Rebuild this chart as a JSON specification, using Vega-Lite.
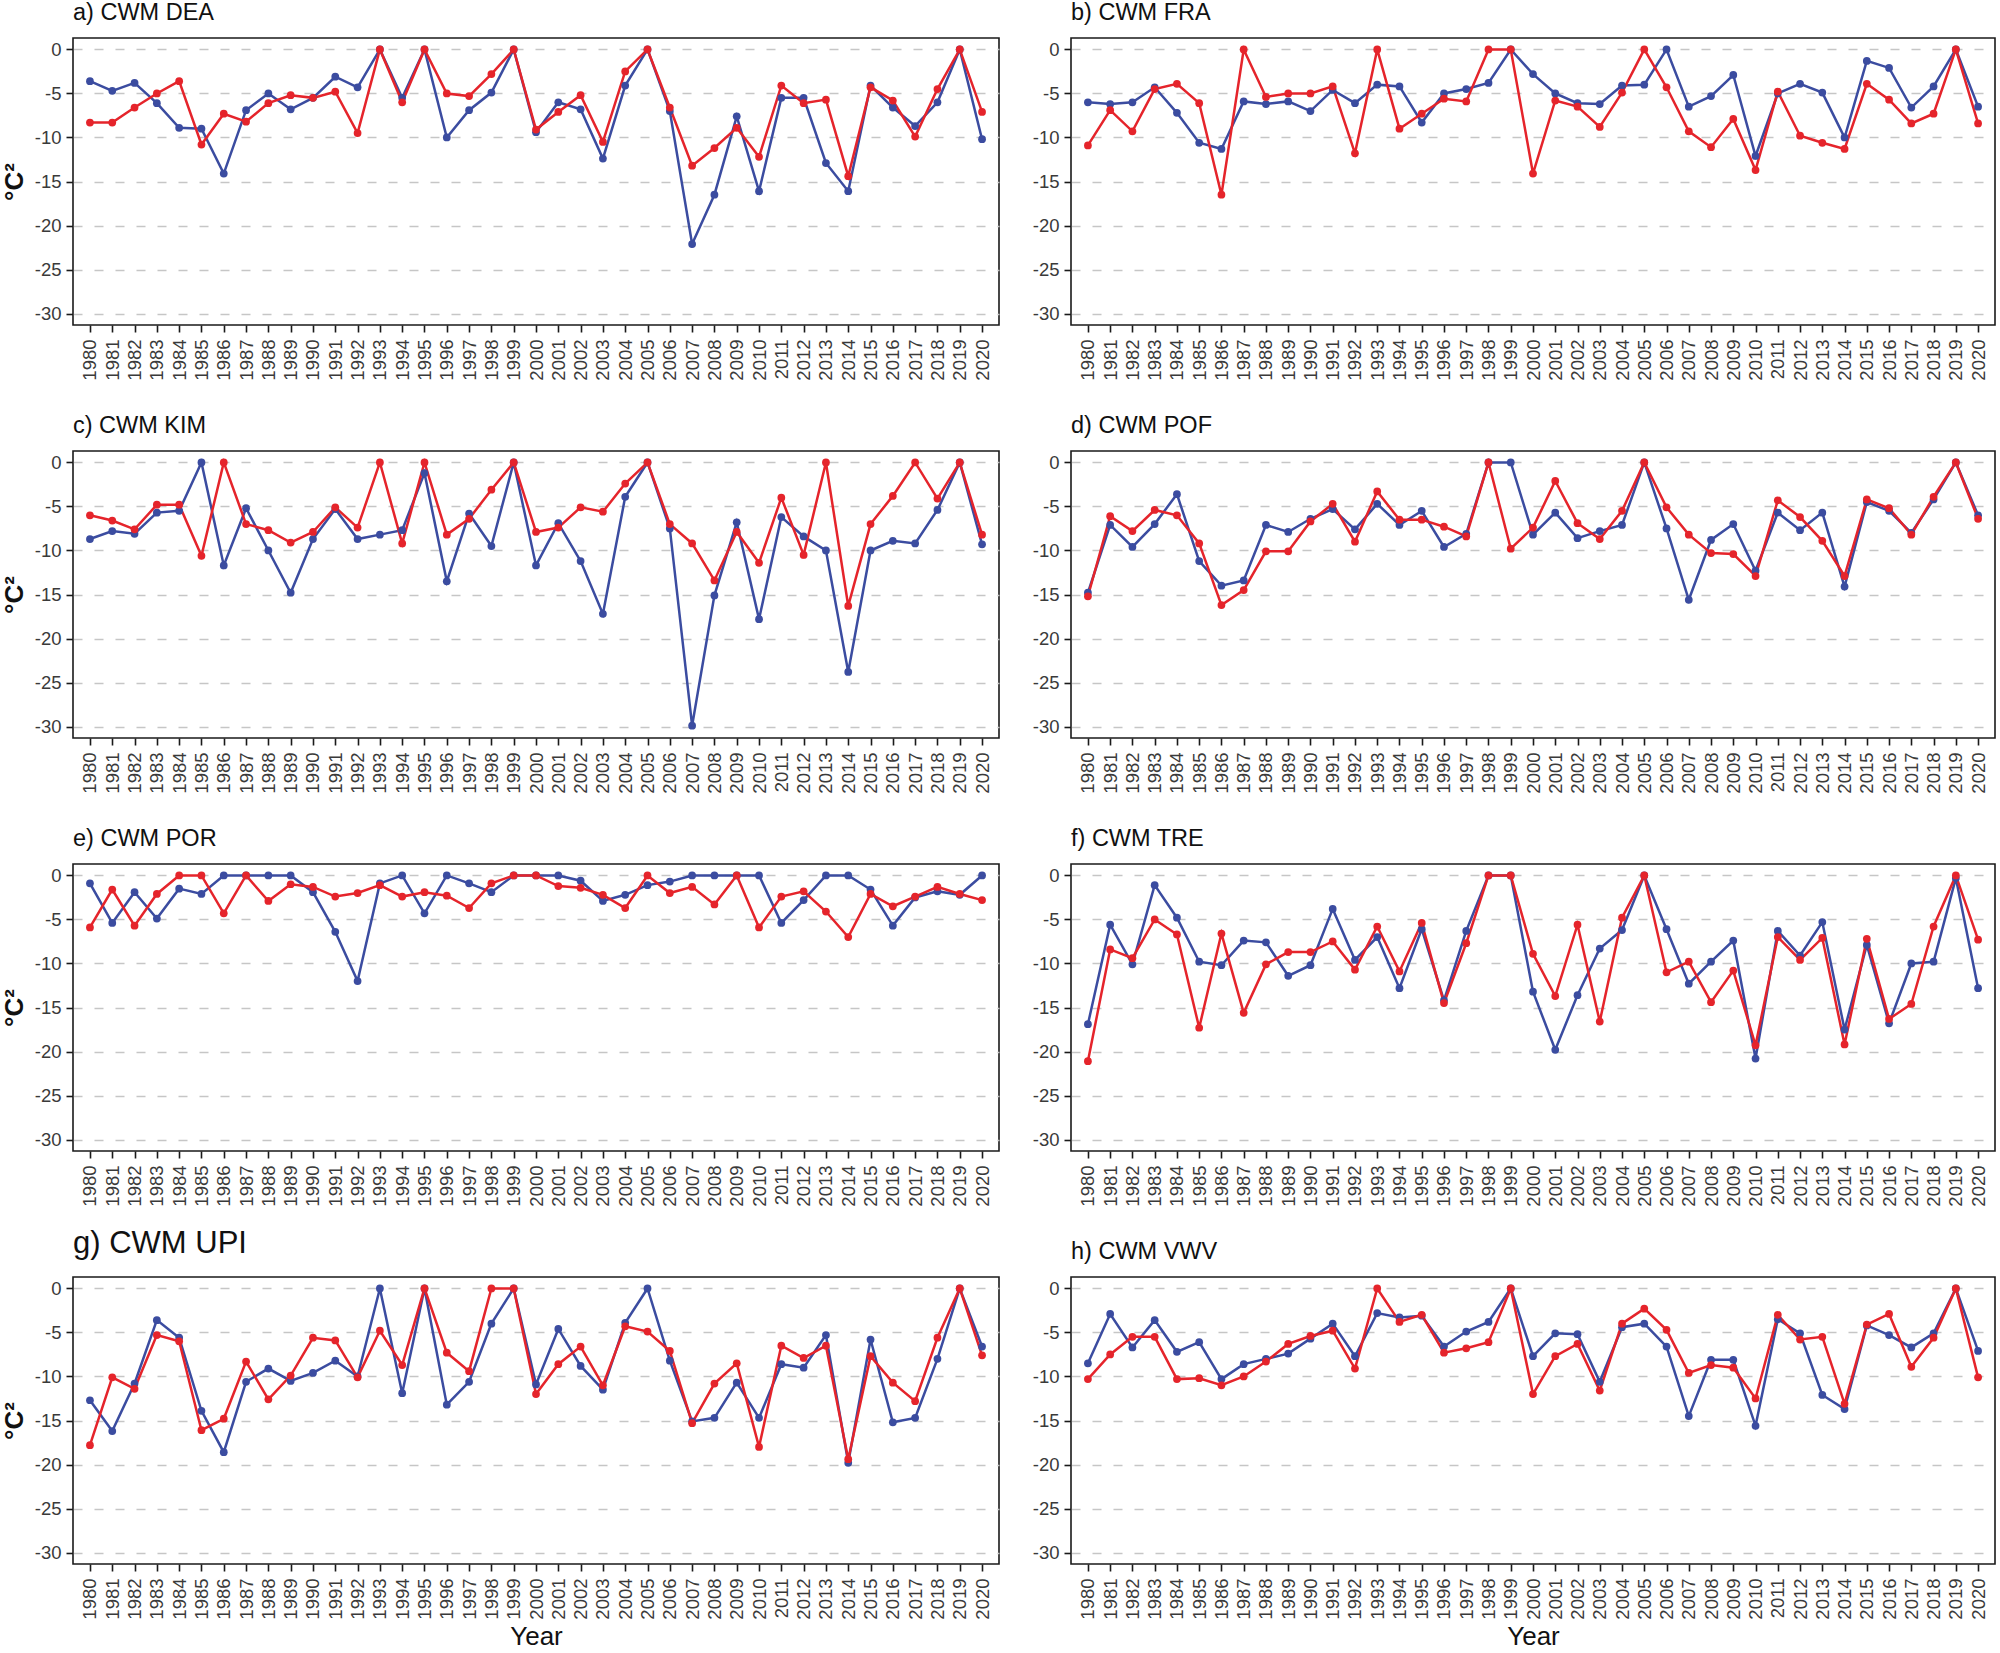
{
"$schema": "https://vega.github.io/schema/vega-lite/v6.json",
"autosize": {"type": "pad"},
"padding": {"left": 0, "top": 0, "right": 0, "bottom": 0},
"background": "white",
"data": {"values": [
{"p":"DEA","year":1980,"s1":-3.6,"s2":-8.3},{"p":"DEA","year":1981,"s1":-4.7,"s2":-8.3},{"p":"DEA","year":1982,"s1":-3.8,"s2":-6.6},{"p":"DEA","year":1983,"s1":-6.1,"s2":-5.0},{"p":"DEA","year":1984,"s1":-8.9,"s2":-3.6},{"p":"DEA","year":1985,"s1":-9.0,"s2":-10.8},{"p":"DEA","year":1986,"s1":-14.1,"s2":-7.3},{"p":"DEA","year":1987,"s1":-6.9,"s2":-8.2},{"p":"DEA","year":1988,"s1":-5.0,"s2":-6.1},{"p":"DEA","year":1989,"s1":-6.8,"s2":-5.2},{"p":"DEA","year":1990,"s1":-5.5,"s2":-5.5},{"p":"DEA","year":1991,"s1":-3.1,"s2":-4.8},{"p":"DEA","year":1992,"s1":-4.3,"s2":-9.5},{"p":"DEA","year":1993,"s1":0,"s2":0},{"p":"DEA","year":1994,"s1":-5.5,"s2":-6.0},{"p":"DEA","year":1995,"s1":0,"s2":0},{"p":"DEA","year":1996,"s1":-10.0,"s2":-5.0},{"p":"DEA","year":1997,"s1":-6.9,"s2":-5.3},{"p":"DEA","year":1998,"s1":-4.9,"s2":-2.8},{"p":"DEA","year":1999,"s1":0,"s2":0},{"p":"DEA","year":2000,"s1":-9.4,"s2":-9.1},{"p":"DEA","year":2001,"s1":-6.0,"s2":-7.1},{"p":"DEA","year":2002,"s1":-6.8,"s2":-5.2},{"p":"DEA","year":2003,"s1":-12.4,"s2":-10.5},{"p":"DEA","year":2004,"s1":-4.1,"s2":-2.5},{"p":"DEA","year":2005,"s1":0,"s2":0},{"p":"DEA","year":2006,"s1":-7.0,"s2":-6.6},{"p":"DEA","year":2007,"s1":-22.1,"s2":-13.2},{"p":"DEA","year":2008,"s1":-16.5,"s2":-11.2},{"p":"DEA","year":2009,"s1":-7.6,"s2":-8.9},{"p":"DEA","year":2010,"s1":-16.1,"s2":-12.2},{"p":"DEA","year":2011,"s1":-5.5,"s2":-4.1},{"p":"DEA","year":2012,"s1":-5.5,"s2":-6.1},{"p":"DEA","year":2013,"s1":-12.9,"s2":-5.7},{"p":"DEA","year":2014,"s1":-16.1,"s2":-14.4},{"p":"DEA","year":2015,"s1":-4.1,"s2":-4.3},{"p":"DEA","year":2016,"s1":-6.6,"s2":-5.8},{"p":"DEA","year":2017,"s1":-8.7,"s2":-9.9},{"p":"DEA","year":2018,"s1":-6.0,"s2":-4.5},{"p":"DEA","year":2019,"s1":0,"s2":0},{"p":"DEA","year":2020,"s1":-10.2,"s2":-7.1},
{"p":"FRA","year":1980,"s1":-6.0,"s2":-10.9},{"p":"FRA","year":1981,"s1":-6.2,"s2":-6.9},{"p":"FRA","year":1982,"s1":-6.0,"s2":-9.3},{"p":"FRA","year":1983,"s1":-4.3,"s2":-4.5},{"p":"FRA","year":1984,"s1":-7.2,"s2":-3.9},{"p":"FRA","year":1985,"s1":-10.6,"s2":-6.1},{"p":"FRA","year":1986,"s1":-11.3,"s2":-16.5},{"p":"FRA","year":1987,"s1":-5.9,"s2":0},{"p":"FRA","year":1988,"s1":-6.2,"s2":-5.4},{"p":"FRA","year":1989,"s1":-5.9,"s2":-5.0},{"p":"FRA","year":1990,"s1":-7.0,"s2":-5.0},{"p":"FRA","year":1991,"s1":-4.6,"s2":-4.2},{"p":"FRA","year":1992,"s1":-6.1,"s2":-11.8},{"p":"FRA","year":1993,"s1":-4.0,"s2":0},{"p":"FRA","year":1994,"s1":-4.2,"s2":-9.0},{"p":"FRA","year":1995,"s1":-8.3,"s2":-7.3},{"p":"FRA","year":1996,"s1":-5.0,"s2":-5.6},{"p":"FRA","year":1997,"s1":-4.5,"s2":-5.9},{"p":"FRA","year":1998,"s1":-3.8,"s2":0},{"p":"FRA","year":1999,"s1":0,"s2":0},{"p":"FRA","year":2000,"s1":-2.8,"s2":-14.1},{"p":"FRA","year":2001,"s1":-5.0,"s2":-5.8},{"p":"FRA","year":2002,"s1":-6.1,"s2":-6.5},{"p":"FRA","year":2003,"s1":-6.2,"s2":-8.8},{"p":"FRA","year":2004,"s1":-4.1,"s2":-4.9},{"p":"FRA","year":2005,"s1":-4.0,"s2":0},{"p":"FRA","year":2006,"s1":0,"s2":-4.3},{"p":"FRA","year":2007,"s1":-6.5,"s2":-9.3},{"p":"FRA","year":2008,"s1":-5.3,"s2":-11.1},{"p":"FRA","year":2009,"s1":-2.9,"s2":-7.9},{"p":"FRA","year":2010,"s1":-12.1,"s2":-13.7},{"p":"FRA","year":2011,"s1":-5.0,"s2":-4.8},{"p":"FRA","year":2012,"s1":-3.9,"s2":-9.8},{"p":"FRA","year":2013,"s1":-4.9,"s2":-10.6},{"p":"FRA","year":2014,"s1":-10.0,"s2":-11.3},{"p":"FRA","year":2015,"s1":-1.3,"s2":-3.9},{"p":"FRA","year":2016,"s1":-2.1,"s2":-5.7},{"p":"FRA","year":2017,"s1":-6.6,"s2":-8.4},{"p":"FRA","year":2018,"s1":-4.2,"s2":-7.3},{"p":"FRA","year":2019,"s1":0,"s2":0},{"p":"FRA","year":2020,"s1":-6.5,"s2":-8.4},
{"p":"KIM","year":1980,"s1":-8.7,"s2":-6.0},{"p":"KIM","year":1981,"s1":-7.8,"s2":-6.6},{"p":"KIM","year":1982,"s1":-8.1,"s2":-7.6},{"p":"KIM","year":1983,"s1":-5.7,"s2":-4.8},{"p":"KIM","year":1984,"s1":-5.5,"s2":-4.8},{"p":"KIM","year":1985,"s1":0,"s2":-10.6},{"p":"KIM","year":1986,"s1":-11.7,"s2":0},{"p":"KIM","year":1987,"s1":-5.2,"s2":-7.0},{"p":"KIM","year":1988,"s1":-10.0,"s2":-7.7},{"p":"KIM","year":1989,"s1":-14.8,"s2":-9.1},{"p":"KIM","year":1990,"s1":-8.7,"s2":-7.9},{"p":"KIM","year":1991,"s1":-5.3,"s2":-5.1},{"p":"KIM","year":1992,"s1":-8.7,"s2":-7.4},{"p":"KIM","year":1993,"s1":-8.2,"s2":0},{"p":"KIM","year":1994,"s1":-7.7,"s2":-9.2},{"p":"KIM","year":1995,"s1":-1.2,"s2":0},{"p":"KIM","year":1996,"s1":-13.5,"s2":-8.2},{"p":"KIM","year":1997,"s1":-5.8,"s2":-6.4},{"p":"KIM","year":1998,"s1":-9.5,"s2":-3.1},{"p":"KIM","year":1999,"s1":0,"s2":0},{"p":"KIM","year":2000,"s1":-11.7,"s2":-7.9},{"p":"KIM","year":2001,"s1":-6.9,"s2":-7.4},{"p":"KIM","year":2002,"s1":-11.2,"s2":-5.1},{"p":"KIM","year":2003,"s1":-17.2,"s2":-5.6},{"p":"KIM","year":2004,"s1":-3.9,"s2":-2.4},{"p":"KIM","year":2005,"s1":0,"s2":0},{"p":"KIM","year":2006,"s1":-7.5,"s2":-7.0},{"p":"KIM","year":2007,"s1":-29.9,"s2":-9.2},{"p":"KIM","year":2008,"s1":-15.1,"s2":-13.4},{"p":"KIM","year":2009,"s1":-6.8,"s2":-7.9},{"p":"KIM","year":2010,"s1":-17.8,"s2":-11.4},{"p":"KIM","year":2011,"s1":-6.2,"s2":-4.0},{"p":"KIM","year":2012,"s1":-8.4,"s2":-10.5},{"p":"KIM","year":2013,"s1":-10.0,"s2":0},{"p":"KIM","year":2014,"s1":-23.8,"s2":-16.3},{"p":"KIM","year":2015,"s1":-10.0,"s2":-7.0},{"p":"KIM","year":2016,"s1":-8.9,"s2":-3.8},{"p":"KIM","year":2017,"s1":-9.2,"s2":0},{"p":"KIM","year":2018,"s1":-5.4,"s2":-4.1},{"p":"KIM","year":2019,"s1":0,"s2":0},{"p":"KIM","year":2020,"s1":-9.3,"s2":-8.2},
{"p":"POF","year":1980,"s1":-14.8,"s2":-15.2},{"p":"POF","year":1981,"s1":-7.1,"s2":-6.1},{"p":"POF","year":1982,"s1":-9.6,"s2":-7.8},{"p":"POF","year":1983,"s1":-7.0,"s2":-5.4},{"p":"POF","year":1984,"s1":-3.6,"s2":-6.0},{"p":"POF","year":1985,"s1":-11.2,"s2":-9.2},{"p":"POF","year":1986,"s1":-14.0,"s2":-16.2},{"p":"POF","year":1987,"s1":-13.4,"s2":-14.5},{"p":"POF","year":1988,"s1":-7.1,"s2":-10.1},{"p":"POF","year":1989,"s1":-7.9,"s2":-10.1},{"p":"POF","year":1990,"s1":-6.4,"s2":-6.7},{"p":"POF","year":1991,"s1":-5.3,"s2":-4.7},{"p":"POF","year":1992,"s1":-7.6,"s2":-9.0},{"p":"POF","year":1993,"s1":-4.7,"s2":-3.3},{"p":"POF","year":1994,"s1":-7.1,"s2":-6.5},{"p":"POF","year":1995,"s1":-5.5,"s2":-6.5},{"p":"POF","year":1996,"s1":-9.6,"s2":-7.3},{"p":"POF","year":1997,"s1":-8.1,"s2":-8.4},{"p":"POF","year":1998,"s1":0,"s2":0},{"p":"POF","year":1999,"s1":0,"s2":-9.8},{"p":"POF","year":2000,"s1":-8.2,"s2":-7.4},{"p":"POF","year":2001,"s1":-5.7,"s2":-2.1},{"p":"POF","year":2002,"s1":-8.6,"s2":-6.9},{"p":"POF","year":2003,"s1":-7.8,"s2":-8.7},{"p":"POF","year":2004,"s1":-7.1,"s2":-5.5},{"p":"POF","year":2005,"s1":0,"s2":0},{"p":"POF","year":2006,"s1":-7.5,"s2":-5.1},{"p":"POF","year":2007,"s1":-15.6,"s2":-8.2},{"p":"POF","year":2008,"s1":-8.8,"s2":-10.3},{"p":"POF","year":2009,"s1":-7.0,"s2":-10.4},{"p":"POF","year":2010,"s1":-12.3,"s2":-12.9},{"p":"POF","year":2011,"s1":-5.7,"s2":-4.3},{"p":"POF","year":2012,"s1":-7.7,"s2":-6.2},{"p":"POF","year":2013,"s1":-5.7,"s2":-8.9},{"p":"POF","year":2014,"s1":-14.1,"s2":-12.9},{"p":"POF","year":2015,"s1":-4.5,"s2":-4.2},{"p":"POF","year":2016,"s1":-5.5,"s2":-5.2},{"p":"POF","year":2017,"s1":-8.0,"s2":-8.2},{"p":"POF","year":2018,"s1":-4.2,"s2":-3.9},{"p":"POF","year":2019,"s1":0,"s2":0},{"p":"POF","year":2020,"s1":-6.0,"s2":-6.4},
{"p":"POR","year":1980,"s1":-0.9,"s2":-5.9},{"p":"POR","year":1981,"s1":-5.4,"s2":-1.6},{"p":"POR","year":1982,"s1":-1.9,"s2":-5.7},{"p":"POR","year":1983,"s1":-4.9,"s2":-2.1},{"p":"POR","year":1984,"s1":-1.5,"s2":0},{"p":"POR","year":1985,"s1":-2.1,"s2":0},{"p":"POR","year":1986,"s1":0,"s2":-4.3},{"p":"POR","year":1987,"s1":0,"s2":0},{"p":"POR","year":1988,"s1":0,"s2":-2.9},{"p":"POR","year":1989,"s1":0,"s2":-1.0},{"p":"POR","year":1990,"s1":-1.9,"s2":-1.3},{"p":"POR","year":1991,"s1":-6.4,"s2":-2.4},{"p":"POR","year":1992,"s1":-12.0,"s2":-2.0},{"p":"POR","year":1993,"s1":-0.9,"s2":-1.1},{"p":"POR","year":1994,"s1":0,"s2":-2.4},{"p":"POR","year":1995,"s1":-4.3,"s2":-1.9},{"p":"POR","year":1996,"s1":0,"s2":-2.3},{"p":"POR","year":1997,"s1":-0.9,"s2":-3.7},{"p":"POR","year":1998,"s1":-1.9,"s2":-0.9},{"p":"POR","year":1999,"s1":0,"s2":0},{"p":"POR","year":2000,"s1":0,"s2":0},{"p":"POR","year":2001,"s1":0,"s2":-1.2},{"p":"POR","year":2002,"s1":-0.6,"s2":-1.4},{"p":"POR","year":2003,"s1":-2.9,"s2":-2.2},{"p":"POR","year":2004,"s1":-2.2,"s2":-3.7},{"p":"POR","year":2005,"s1":-1.1,"s2":0},{"p":"POR","year":2006,"s1":-0.7,"s2":-2.0},{"p":"POR","year":2007,"s1":0,"s2":-1.3},{"p":"POR","year":2008,"s1":0,"s2":-3.3},{"p":"POR","year":2009,"s1":0,"s2":0},{"p":"POR","year":2010,"s1":0,"s2":-5.9},{"p":"POR","year":2011,"s1":-5.4,"s2":-2.4},{"p":"POR","year":2012,"s1":-2.8,"s2":-1.8},{"p":"POR","year":2013,"s1":0,"s2":-4.1},{"p":"POR","year":2014,"s1":0,"s2":-7.0},{"p":"POR","year":2015,"s1":-1.6,"s2":-2.1},{"p":"POR","year":2016,"s1":-5.7,"s2":-3.5},{"p":"POR","year":2017,"s1":-2.5,"s2":-2.4},{"p":"POR","year":2018,"s1":-1.8,"s2":-1.3},{"p":"POR","year":2019,"s1":-2.2,"s2":-2.1},{"p":"POR","year":2020,"s1":0,"s2":-2.8},
{"p":"TRE","year":1980,"s1":-16.9,"s2":-21.1},{"p":"TRE","year":1981,"s1":-5.6,"s2":-8.4},{"p":"TRE","year":1982,"s1":-10.1,"s2":-9.4},{"p":"TRE","year":1983,"s1":-1.1,"s2":-5.0},{"p":"TRE","year":1984,"s1":-4.8,"s2":-6.7},{"p":"TRE","year":1985,"s1":-9.8,"s2":-17.3},{"p":"TRE","year":1986,"s1":-10.2,"s2":-6.6},{"p":"TRE","year":1987,"s1":-7.4,"s2":-15.6},{"p":"TRE","year":1988,"s1":-7.6,"s2":-10.1},{"p":"TRE","year":1989,"s1":-11.4,"s2":-8.7},{"p":"TRE","year":1990,"s1":-10.2,"s2":-8.7},{"p":"TRE","year":1991,"s1":-3.8,"s2":-7.5},{"p":"TRE","year":1992,"s1":-9.6,"s2":-10.7},{"p":"TRE","year":1993,"s1":-7.0,"s2":-5.8},{"p":"TRE","year":1994,"s1":-12.8,"s2":-10.9},{"p":"TRE","year":1995,"s1":-6.1,"s2":-5.4},{"p":"TRE","year":1996,"s1":-14.2,"s2":-14.5},{"p":"TRE","year":1997,"s1":-6.3,"s2":-7.7},{"p":"TRE","year":1998,"s1":0,"s2":0},{"p":"TRE","year":1999,"s1":0,"s2":0},{"p":"TRE","year":2000,"s1":-13.2,"s2":-8.9},{"p":"TRE","year":2001,"s1":-19.8,"s2":-13.7},{"p":"TRE","year":2002,"s1":-13.6,"s2":-5.6},{"p":"TRE","year":2003,"s1":-8.3,"s2":-16.6},{"p":"TRE","year":2004,"s1":-6.2,"s2":-4.8},{"p":"TRE","year":2005,"s1":0,"s2":0},{"p":"TRE","year":2006,"s1":-6.1,"s2":-11.0},{"p":"TRE","year":2007,"s1":-12.3,"s2":-9.8},{"p":"TRE","year":2008,"s1":-9.8,"s2":-14.4},{"p":"TRE","year":2009,"s1":-7.4,"s2":-10.8},{"p":"TRE","year":2010,"s1":-20.8,"s2":-19.3},{"p":"TRE","year":2011,"s1":-6.3,"s2":-7.0},{"p":"TRE","year":2012,"s1":-9.1,"s2":-9.6},{"p":"TRE","year":2013,"s1":-5.3,"s2":-7.1},{"p":"TRE","year":2014,"s1":-17.5,"s2":-19.2},{"p":"TRE","year":2015,"s1":-7.9,"s2":-7.2},{"p":"TRE","year":2016,"s1":-16.8,"s2":-16.3},{"p":"TRE","year":2017,"s1":-10.0,"s2":-14.6},{"p":"TRE","year":2018,"s1":-9.8,"s2":-5.8},{"p":"TRE","year":2019,"s1":-0.3,"s2":0},{"p":"TRE","year":2020,"s1":-12.8,"s2":-7.3},
{"p":"UPI","year":1980,"s1":-12.7,"s2":-17.8},{"p":"UPI","year":1981,"s1":-16.2,"s2":-10.1},{"p":"UPI","year":1982,"s1":-10.8,"s2":-11.4},{"p":"UPI","year":1983,"s1":-3.6,"s2":-5.3},{"p":"UPI","year":1984,"s1":-5.6,"s2":-6.0},{"p":"UPI","year":1985,"s1":-13.9,"s2":-16.1},{"p":"UPI","year":1986,"s1":-18.6,"s2":-14.8},{"p":"UPI","year":1987,"s1":-10.6,"s2":-8.3},{"p":"UPI","year":1988,"s1":-9.1,"s2":-12.6},{"p":"UPI","year":1989,"s1":-10.5,"s2":-9.9},{"p":"UPI","year":1990,"s1":-9.6,"s2":-5.6},{"p":"UPI","year":1991,"s1":-8.2,"s2":-5.9},{"p":"UPI","year":1992,"s1":-10.0,"s2":-10.1},{"p":"UPI","year":1993,"s1":0,"s2":-4.8},{"p":"UPI","year":1994,"s1":-11.9,"s2":-8.7},{"p":"UPI","year":1995,"s1":0,"s2":0},{"p":"UPI","year":1996,"s1":-13.2,"s2":-7.3},{"p":"UPI","year":1997,"s1":-10.6,"s2":-9.4},{"p":"UPI","year":1998,"s1":-4.0,"s2":0},{"p":"UPI","year":1999,"s1":0,"s2":0},{"p":"UPI","year":2000,"s1":-10.9,"s2":-12.0},{"p":"UPI","year":2001,"s1":-4.6,"s2":-8.6},{"p":"UPI","year":2002,"s1":-8.8,"s2":-6.6},{"p":"UPI","year":2003,"s1":-11.5,"s2":-11.0},{"p":"UPI","year":2004,"s1":-3.9,"s2":-4.3},{"p":"UPI","year":2005,"s1":0,"s2":-4.9},{"p":"UPI","year":2006,"s1":-8.2,"s2":-7.1},{"p":"UPI","year":2007,"s1":-15.1,"s2":-15.3},{"p":"UPI","year":2008,"s1":-14.7,"s2":-10.8},{"p":"UPI","year":2009,"s1":-10.7,"s2":-8.5},{"p":"UPI","year":2010,"s1":-14.7,"s2":-18.0},{"p":"UPI","year":2011,"s1":-8.6,"s2":-6.5},{"p":"UPI","year":2012,"s1":-9.0,"s2":-7.9},{"p":"UPI","year":2013,"s1":-5.3,"s2":-6.5},{"p":"UPI","year":2014,"s1":-19.8,"s2":-19.4},{"p":"UPI","year":2015,"s1":-5.8,"s2":-7.7},{"p":"UPI","year":2016,"s1":-15.2,"s2":-10.7},{"p":"UPI","year":2017,"s1":-14.7,"s2":-12.8},{"p":"UPI","year":2018,"s1":-8.0,"s2":-5.6},{"p":"UPI","year":2019,"s1":0,"s2":0},{"p":"UPI","year":2020,"s1":-6.6,"s2":-7.6},
{"p":"VWV","year":1980,"s1":-8.5,"s2":-10.3},{"p":"VWV","year":1981,"s1":-2.9,"s2":-7.5},{"p":"VWV","year":1982,"s1":-6.7,"s2":-5.5},{"p":"VWV","year":1983,"s1":-3.6,"s2":-5.5},{"p":"VWV","year":1984,"s1":-7.2,"s2":-10.3},{"p":"VWV","year":1985,"s1":-6.1,"s2":-10.2},{"p":"VWV","year":1986,"s1":-10.3,"s2":-11.0},{"p":"VWV","year":1987,"s1":-8.6,"s2":-10.0},{"p":"VWV","year":1988,"s1":-8.0,"s2":-8.3},{"p":"VWV","year":1989,"s1":-7.4,"s2":-6.3},{"p":"VWV","year":1990,"s1":-5.7,"s2":-5.4},{"p":"VWV","year":1991,"s1":-4.0,"s2":-4.8},{"p":"VWV","year":1992,"s1":-7.7,"s2":-9.1},{"p":"VWV","year":1993,"s1":-2.8,"s2":0},{"p":"VWV","year":1994,"s1":-3.3,"s2":-3.8},{"p":"VWV","year":1995,"s1":-3.1,"s2":-3.0},{"p":"VWV","year":1996,"s1":-6.6,"s2":-7.3},{"p":"VWV","year":1997,"s1":-4.9,"s2":-6.8},{"p":"VWV","year":1998,"s1":-3.8,"s2":-6.1},{"p":"VWV","year":1999,"s1":0,"s2":0},{"p":"VWV","year":2000,"s1":-7.7,"s2":-12.0},{"p":"VWV","year":2001,"s1":-5.1,"s2":-7.7},{"p":"VWV","year":2002,"s1":-5.2,"s2":-6.3},{"p":"VWV","year":2003,"s1":-10.6,"s2":-11.6},{"p":"VWV","year":2004,"s1":-4.4,"s2":-4.0},{"p":"VWV","year":2005,"s1":-4.0,"s2":-2.3},{"p":"VWV","year":2006,"s1":-6.6,"s2":-4.7},{"p":"VWV","year":2007,"s1":-14.5,"s2":-9.6},{"p":"VWV","year":2008,"s1":-8.1,"s2":-8.7},{"p":"VWV","year":2009,"s1":-8.1,"s2":-9.0},{"p":"VWV","year":2010,"s1":-15.6,"s2":-12.5},{"p":"VWV","year":2011,"s1":-3.5,"s2":-3.0},{"p":"VWV","year":2012,"s1":-5.1,"s2":-5.8},{"p":"VWV","year":2013,"s1":-12.1,"s2":-5.5},{"p":"VWV","year":2014,"s1":-13.7,"s2":-13.1},{"p":"VWV","year":2015,"s1":-4.2,"s2":-4.1},{"p":"VWV","year":2016,"s1":-5.3,"s2":-2.9},{"p":"VWV","year":2017,"s1":-6.7,"s2":-8.9},{"p":"VWV","year":2018,"s1":-5.1,"s2":-5.6},{"p":"VWV","year":2019,"s1":0,"s2":0},{"p":"VWV","year":2020,"s1":-7.1,"s2":-10.1}
]},
"columns": 2,
"bounds": "flush",
"spacing": {"row": 126, "column": 72},
"concat": [
{"title": {"text": "a) CWM DEA"}, "width": 926, "height": 287,
 "transform": [{"filter": "datum.p === 'DEA'"}, {"fold": ["s1", "s2"], "as": ["series", "value"]}],
 "encoding": {
  "x": {"field": "year", "type": "ordinal", "scale": {"type": "point", "padding": 0.76}, "axis": {"title": null}},
  "y": {"field": "value", "type": "quantitative", "scale": {"domain": [-31.3, 1.3], "nice": false, "zero": false}, "axis": {"title": "°C²", "values": [0, -5, -10, -15, -20, -25, -30], "labelExpr": "'' + datum.value"}},
  "color": {"field": "series", "type": "nominal", "scale": {"domain": ["s1", "s2"], "range": ["#3B4CA0", "#E5242B"]}, "legend": null}},
 "layer": [{"mark": {"type": "line", "strokeWidth": 2.5}, "encoding": {}}, {"mark": {"type": "circle", "size": 60, "opacity": 1}, "encoding": {}}]},
{"title": {"text": "b) CWM FRA"}, "width": 924, "height": 287,
 "transform": [{"filter": "datum.p === 'FRA'"}, {"fold": ["s1", "s2"], "as": ["series", "value"]}],
 "encoding": {
  "x": {"field": "year", "type": "ordinal", "scale": {"type": "point", "padding": 0.76}, "axis": {"title": null}},
  "y": {"field": "value", "type": "quantitative", "scale": {"domain": [-31.3, 1.3], "nice": false, "zero": false}, "axis": {"title": null, "values": [0, -5, -10, -15, -20, -25, -30], "labelExpr": "'' + datum.value"}},
  "color": {"field": "series", "type": "nominal", "scale": {"domain": ["s1", "s2"], "range": ["#3B4CA0", "#E5242B"]}, "legend": null}},
 "layer": [{"mark": {"type": "line", "strokeWidth": 2.5}, "encoding": {}}, {"mark": {"type": "circle", "size": 60, "opacity": 1}, "encoding": {}}]},
{"title": {"text": "c) CWM KIM"}, "width": 926, "height": 287,
 "transform": [{"filter": "datum.p === 'KIM'"}, {"fold": ["s1", "s2"], "as": ["series", "value"]}],
 "encoding": {
  "x": {"field": "year", "type": "ordinal", "scale": {"type": "point", "padding": 0.76}, "axis": {"title": null}},
  "y": {"field": "value", "type": "quantitative", "scale": {"domain": [-31.3, 1.3], "nice": false, "zero": false}, "axis": {"title": "°C²", "values": [0, -5, -10, -15, -20, -25, -30], "labelExpr": "'' + datum.value"}},
  "color": {"field": "series", "type": "nominal", "scale": {"domain": ["s1", "s2"], "range": ["#3B4CA0", "#E5242B"]}, "legend": null}},
 "layer": [{"mark": {"type": "line", "strokeWidth": 2.5}, "encoding": {}}, {"mark": {"type": "circle", "size": 60, "opacity": 1}, "encoding": {}}]},
{"title": {"text": "d) CWM POF"}, "width": 924, "height": 287,
 "transform": [{"filter": "datum.p === 'POF'"}, {"fold": ["s1", "s2"], "as": ["series", "value"]}],
 "encoding": {
  "x": {"field": "year", "type": "ordinal", "scale": {"type": "point", "padding": 0.76}, "axis": {"title": null}},
  "y": {"field": "value", "type": "quantitative", "scale": {"domain": [-31.3, 1.3], "nice": false, "zero": false}, "axis": {"title": null, "values": [0, -5, -10, -15, -20, -25, -30], "labelExpr": "'' + datum.value"}},
  "color": {"field": "series", "type": "nominal", "scale": {"domain": ["s1", "s2"], "range": ["#3B4CA0", "#E5242B"]}, "legend": null}},
 "layer": [{"mark": {"type": "line", "strokeWidth": 2.5}, "encoding": {}}, {"mark": {"type": "circle", "size": 60, "opacity": 1}, "encoding": {}}]},
{"title": {"text": "e) CWM POR"}, "width": 926, "height": 287,
 "transform": [{"filter": "datum.p === 'POR'"}, {"fold": ["s1", "s2"], "as": ["series", "value"]}],
 "encoding": {
  "x": {"field": "year", "type": "ordinal", "scale": {"type": "point", "padding": 0.76}, "axis": {"title": null}},
  "y": {"field": "value", "type": "quantitative", "scale": {"domain": [-31.3, 1.3], "nice": false, "zero": false}, "axis": {"title": "°C²", "values": [0, -5, -10, -15, -20, -25, -30], "labelExpr": "'' + datum.value"}},
  "color": {"field": "series", "type": "nominal", "scale": {"domain": ["s1", "s2"], "range": ["#3B4CA0", "#E5242B"]}, "legend": null}},
 "layer": [{"mark": {"type": "line", "strokeWidth": 2.5}, "encoding": {}}, {"mark": {"type": "circle", "size": 60, "opacity": 1}, "encoding": {}}]},
{"title": {"text": "f) CWM TRE"}, "width": 924, "height": 287,
 "transform": [{"filter": "datum.p === 'TRE'"}, {"fold": ["s1", "s2"], "as": ["series", "value"]}],
 "encoding": {
  "x": {"field": "year", "type": "ordinal", "scale": {"type": "point", "padding": 0.76}, "axis": {"title": null}},
  "y": {"field": "value", "type": "quantitative", "scale": {"domain": [-31.3, 1.3], "nice": false, "zero": false}, "axis": {"title": null, "values": [0, -5, -10, -15, -20, -25, -30], "labelExpr": "'' + datum.value"}},
  "color": {"field": "series", "type": "nominal", "scale": {"domain": ["s1", "s2"], "range": ["#3B4CA0", "#E5242B"]}, "legend": null}},
 "layer": [{"mark": {"type": "line", "strokeWidth": 2.5}, "encoding": {}}, {"mark": {"type": "circle", "size": 60, "opacity": 1}, "encoding": {}}]},
{"title": {"text": "g) CWM UPI", "fontSize": 31, "offset": 17}, "width": 926, "height": 287,
 "transform": [{"filter": "datum.p === 'UPI'"}, {"fold": ["s1", "s2"], "as": ["series", "value"]}],
 "encoding": {
  "x": {"field": "year", "type": "ordinal", "scale": {"type": "point", "padding": 0.76}, "axis": {"title": "Year"}},
  "y": {"field": "value", "type": "quantitative", "scale": {"domain": [-31.3, 1.3], "nice": false, "zero": false}, "axis": {"title": "°C²", "values": [0, -5, -10, -15, -20, -25, -30], "labelExpr": "'' + datum.value"}},
  "color": {"field": "series", "type": "nominal", "scale": {"domain": ["s1", "s2"], "range": ["#3B4CA0", "#E5242B"]}, "legend": null}},
 "layer": [{"mark": {"type": "line", "strokeWidth": 2.5}, "encoding": {}}, {"mark": {"type": "circle", "size": 60, "opacity": 1}, "encoding": {}}]},
{"title": {"text": "h) CWM VWV"}, "width": 924, "height": 287,
 "transform": [{"filter": "datum.p === 'VWV'"}, {"fold": ["s1", "s2"], "as": ["series", "value"]}],
 "encoding": {
  "x": {"field": "year", "type": "ordinal", "scale": {"type": "point", "padding": 0.76}, "axis": {"title": "Year"}},
  "y": {"field": "value", "type": "quantitative", "scale": {"domain": [-31.3, 1.3], "nice": false, "zero": false}, "axis": {"title": null, "values": [0, -5, -10, -15, -20, -25, -30], "labelExpr": "'' + datum.value"}},
  "color": {"field": "series", "type": "nominal", "scale": {"domain": ["s1", "s2"], "range": ["#3B4CA0", "#E5242B"]}, "legend": null}},
 "layer": [{"mark": {"type": "line", "strokeWidth": 2.5}, "encoding": {}}, {"mark": {"type": "circle", "size": 60, "opacity": 1}, "encoding": {}}]}
],
"config": {
 "font": "Liberation Sans",
 "view": {"stroke": "#1a1a1a", "strokeWidth": 1.6},
 "axis": {"domain": false, "tickColor": "#1a1a1a", "tickWidth": 1.6, "tickSize": 7, "labelFont": "Liberation Sans", "labelFontSize": 18.5, "labelColor": "#3a3a3a", "titleFont": "Liberation Sans", "titleColor": "#111111", "gridColor": "#c6c6c6", "gridDash": [9, 12], "gridWidth": 1.5},
 "axisX": {"grid": false, "labelAngle": -90, "labelPadding": 7, "labelOverlap": false, "titleFontSize": 26, "titleFontWeight": "normal", "titlePadding": 4},
 "axisY": {"grid": true, "labelPadding": 5, "titleFontSize": 26, "titleFontWeight": "bold", "titlePadding": 7},
 "title": {"anchor": "start", "frame": "group", "fontSize": 23.5, "fontWeight": "normal", "color": "#111111", "offset": 13.5, "baseline": "alphabetic"}
}
}
